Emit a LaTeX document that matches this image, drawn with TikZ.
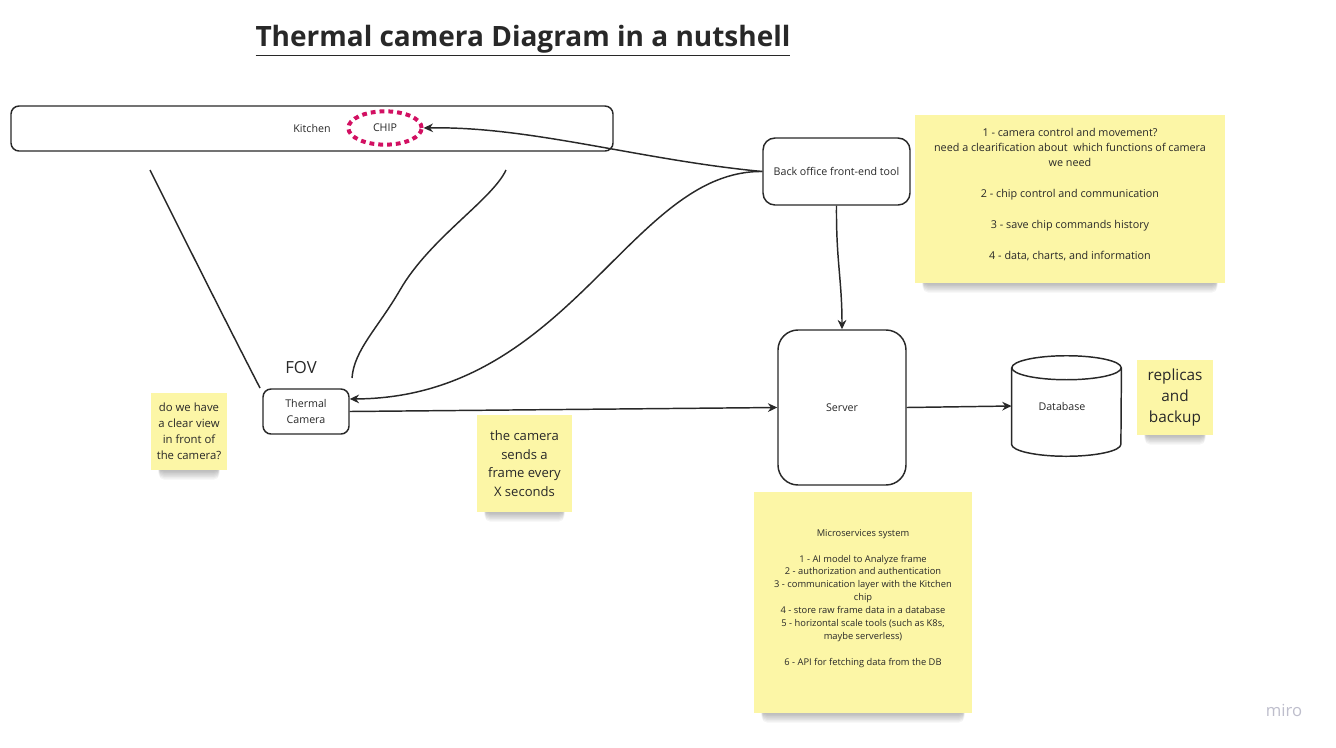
\documentclass[tikz,border=0pt]{standalone}
\usepackage{fontspec}
\setmainfont{Open Sans}
\usetikzlibrary{arrows.meta,backgrounds,calc,shapes.geometric}
\definecolor{sticky}{RGB}{252,246,166}
\definecolor{chipred}{RGB}{210,16,98}
\definecolor{ink}{RGB}{40,40,40}
\definecolor{logo}{RGB}{190,190,204}
\tikzset{
  box/.style={draw=ink,line width=1.1pt,fill=white,text=ink,font=\fontsize{8}{11}\selectfont,align=center,inner sep=0pt},
  note/.style={fill=sticky,draw=none,text=ink,align=center,inner sep=0pt},
  conn/.style={draw=ink,line width=1.1pt},
  arr/.style={conn,-{Stealth[length=7pt,width=6.5pt]}},
}
\newcommand{\noteshadow}[1]{%
  \foreach \i in {1,...,7}{%
    \fill[black,opacity=0.04,rounded corners=4pt]
      ([xshift=6pt,yshift=12pt]#1.south west) rectangle ([xshift=-6pt,yshift={-\i*1pt}]#1.south east);
  }}
\begin{document}
\begin{tikzpicture}[x=0.75pt,y=-0.75pt]
\useasboundingbox (0,0) rectangle (1336,747);

% title
\node[text=ink,font=\bfseries\fontsize{21}{24}\selectfont] (title) at (523,41) {\underline{Thermal camera Diagram in a nutshell}};

% kitchen
\node[box,rounded corners=6pt,minimum width=451.5pt,minimum height=33.75pt] (kitchen) at (312,128.5) {};
\node[text=ink,font=\fontsize{8}{10}\selectfont] (ktext) at (312,128) {Kitchen};
\node[ellipse,draw=chipred,line width=3pt,dash pattern=on 3.6pt off 3pt,minimum width=55pt,minimum height=25pt,inner sep=0pt,text=ink,font=\fontsize{8}{10}\selectfont] (chip) at (385,128) {CHIP};

% boxes
\node[box,rounded corners=9pt,minimum width=110.25pt,minimum height=50.25pt] (bo) at (836.5,171.5) {Back office front-end tool};
\node[box,rounded corners=15pt,minimum width=96pt,minimum height=116.25pt] (server) at (842,407.5) {Server};
\node[box,rounded corners=6pt,minimum width=64.5pt,minimum height=33.75pt,font=\fontsize{8}{12}\selectfont] (cam) at (306,411.5) {Thermal\\Camera};

% database cylinder
\node[minimum width=82pt,minimum height=75pt,inner sep=0pt] (db) at (1066.5,406) {};
\draw[ink,line width=1.1pt,fill=white]
  ($(db.north west)+(0,12)$) -- ($(db.south west)+(0,-12)$)
  arc[start angle=180,end angle=360,x radius=41pt,y radius=9pt]
  -- ($(db.north east)+(0,12)$);
\draw[ink,line width=1.1pt,fill=white] ($(db.north)+(0,12)$) ellipse[x radius=41pt,y radius=9pt];
\node[text=ink,font=\fontsize{8}{10}\selectfont] (dbtext) at (1062,406) {Database};

% FOV
\node[text=ink,font=\fontsize{12.5}{14}\selectfont] (fov) at (301,368) {FOV};
\coordinate (f1) at (150,170);
\coordinate (f2) at (260,388);
\coordinate (f3) at (506,170);
\coordinate (f4) at (352,378);
\draw[conn] (f1) .. controls (185,240) and (225,320) .. (f2);
\draw[conn] (f3) .. controls (492,200) and (430,238) .. (400,290) .. controls (378,328) and (354,350) .. (f4);

% stickies
\node[note,minimum width=232.5pt,minimum height=126pt] (s1) at (1070,199) {};
\node[text=ink,align=center,font=\fontsize{8.1}{11.6}\selectfont] (s1t) at (1070,194.5) {1 - camera control and movement?\\need a clearification about \ which functions of camera\\we need\\[11.6pt]2 - chip control and communication\\[11.6pt]3 - save chip commands history\\[11.6pt]4 - data, charts, and information};

\node[note,minimum width=163.5pt,minimum height=165.75pt] (s2) at (863,602.5) {};
\node[text=ink,align=center,font=\fontsize{7}{9.7}\selectfont] (s2t) at (863,598.5) {Microservices system\\[9.7pt]1 - AI model to Analyze frame\\2 - authorization and authentication\\3 - communication layer with the Kitchen\\chip\\4 - store raw frame data in a database\\5 - horizontal scale tools (such as K8s,\\maybe serverless)\\[9.7pt]6 - API for fetching data from the DB};

\node[note,minimum width=57pt,minimum height=57.75pt,font=\fontsize{8.5}{12}\selectfont] (s3) at (189,431.5) {do we have\\a clear view\\in front of\\the camera?};
\node[note,minimum width=71.25pt,minimum height=72.75pt,font=\fontsize{9.8}{14}\selectfont] (s4) at (524.5,463.5) {the camera\\sends a\\frame every\\X seconds};
\node[note,minimum width=57pt,minimum height=56.25pt,font=\fontsize{11.5}{16}\selectfont] (s5) at (1175,397.5) {replicas\\and\\backup};

\begin{scope}[on background layer]
  \fill[white] (0,0) rectangle (1336,747);
  \noteshadow{s1}
  \noteshadow{s2}
  \noteshadow{s3}
  \noteshadow{s4}
  \noteshadow{s5}
\end{scope}

% connectors
\draw[arr] (bo.west) .. controls (640,160) and (530,126) .. (chip.east);
\draw[arr] (bo.west) .. controls (630,170) and (570,398) .. ([yshift=9.4pt]cam.east);
\draw[arr] (bo.south) .. controls (836,260) and (842,280) .. (server.north);
\draw[arr] (cam.east) -- (server.west);
\draw[arr] (server.east) -- (db.west);

% logo
\node[text=logo,font=\fontsize{12.5}{14}\selectfont] (miro) at (1284,710) {miro};
\end{tikzpicture}
\end{document}
